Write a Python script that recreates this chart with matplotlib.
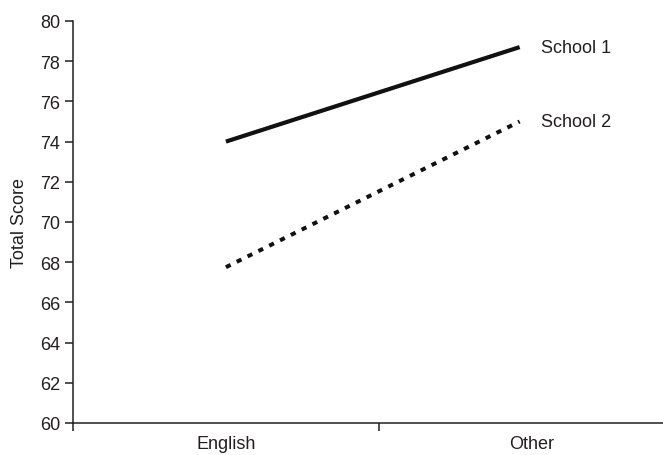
import matplotlib.pyplot as plt

plt.rcParams['font.family'] = ['Liberation Sans', 'DejaVu Sans']

# data
categories = ['English', 'Other']
school1 = [74.0, 78.7]
school2 = [67.75, 75.0]
line_x = [0.0, 0.96]   # lines stop a bit short of the "Other" centre
series_names = ['School 1', 'School 2']
yticks = list(range(60, 81, 2))

ink = '#231f20'
fs = 13

fig = plt.figure(figsize=(6.63, 4.56), dpi=100)
ax = fig.add_axes([0.110, 0.0702, 0.923, 0.8816])

ax.plot(line_x, school1, color='#111111', lw=3.0, solid_capstyle='butt')
ax.plot(line_x, school2, color='#111111', lw=2.9, dashes=(1.3, 1.7), dash_capstyle='butt')

# series labels at the right end of each line
ax.text(1.03, school1[-1], series_names[0], fontsize=fs, color=ink, va='center', ha='left')
ax.text(1.03, school2[-1], series_names[1], fontsize=fs, color=ink, va='center', ha='left')

ax.set_xlim(-0.5, 1.5)
ax.set_ylim(60, 80)
ax.set_yticks(yticks)

# boundary ticks between categories, labels centred on categories
ax.set_xticks([-0.5, 0.5, 1.5])
ax.set_xticklabels([])
ax.set_xticks([0, 1], minor=True)
ax.set_xticklabels(categories, minor=True)
ax.tick_params(axis='x', which='minor', length=0, pad=9, labelsize=fs, colors=ink)
ax.tick_params(axis='x', which='major', length=6, width=1.1, color=ink)
ax.tick_params(axis='y', length=6, width=1.1, labelsize=fs, colors=ink, pad=3)

ax.set_ylabel('Total Score', fontsize=fs, color=ink, labelpad=9)

for side in ['top', 'right']:
    ax.spines[side].set_visible(False)
for side in ['left', 'bottom']:
    ax.spines[side].set_linewidth(1.1)
    ax.spines[side].set_color(ink)

fig.savefig('out.png', dpi=100)
